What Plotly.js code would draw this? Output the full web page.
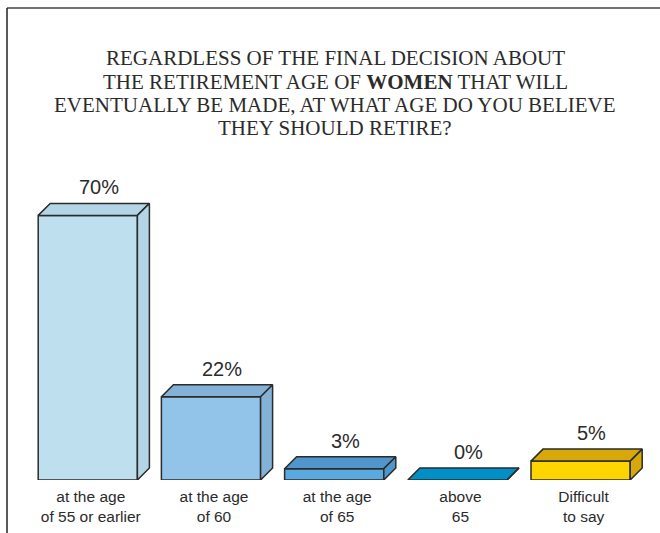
<!DOCTYPE html>
<html>
<head>
<meta charset="utf-8">
<script src="https://cdn.plot.ly/plotly-3.0.1.min.js"></script>
<style>
html,body{margin:0;padding:0;background:#fff;}
#chart{width:660px;height:533px;}
</style>
</head>
<body>
<div id="chart"></div>
<script>
// ---- data ----
var categories = ["at the age<br>of 55 or earlier", "at the age<br>of 60", "at the age<br>of 65", "above<br>65", "Difficult<br>to say"];
var values = [70, 22, 3, 0, 5];
var valueLabels = ["70%", "22%", "3%", "0%", "5%"];
var frontColors = ["#BEDFEE", "#92C4EA", "#5AAADF", "#0090C6", "#FFD500"];
var shadeColors = ["#B3D5E6", "#83B2D6", "#5096CB", "#0090C6", "#D6A80A"];
var titleLines = [
  "REGARDLESS OF THE FINAL DECISION ABOUT",
  "THE RETIREMENT AGE OF <b>WOMEN</b> THAT WILL",
  "EVENTUALLY BE MADE, AT WHAT AGE DO YOU BELIEVE",
  "THEY SHOULD RETIRE?"
];

// ---- geometry (pixel-based styling constants) ----
var W = 660, H = 533;
var mT = 102, mB = 53;
var pxPerUnitX = 123.2;
var firstCenterPx = 87.8;
var xmin = -firstCenterPx / pxPerUnitX;
var xmax = (W - firstCenterPx) / pxPerUnitX;
var plotH = H - mT - mB;
var ymax = 100;
var pxPerUnitY = plotH / ymax;
var half = 49.6 / pxPerUnitX;
var depthPx = 12;
var dx = depthPx / pxPerUnitX;
var dy = depthPx / pxPerUnitY;
var edge = {color: "#2b2b2b", width: 1.5};

var traces = [];
function poly(xs, ys, fill) {
  traces.push({
    type: "scatter", mode: "lines", x: xs, y: ys, fill: "toself",
    fillcolor: fill, line: edge, hoverinfo: "skip", showlegend: false
  });
}
values.forEach(function (v, i) {
  var L = i - half, R = i + half;
  poly([L, R, R, L, L], [0, 0, v, v, 0], frontColors[i]);
  poly([L, R, R + dx, L + dx, L], [v, v, v + dy, v + dy, v], shadeColors[i]);
  poly([R, R + dx, R + dx, R, R], [0, dy, v + dy, v, 0], shadeColors[i]);
});

var annotations = [];
values.forEach(function (v, i) {
  annotations.push({
    x: i + 11 / pxPerUnitX, y: v + dy, xref: "x", yref: "y",
    text: valueLabels[i], showarrow: false, yanchor: "bottom", yshift: 3,
    font: {family: "Liberation Sans, Arial, sans-serif", size: 20, color: "#2b2b2b"}
  });
});
var titleCenters = [58.5, 81.5, 104.5, 128];
titleLines.forEach(function (t, k) {
  annotations.push({
    x: 335 / W, xref: "paper", y: (H - mB - titleCenters[k]) / plotH, yref: "paper",
    text: t, showarrow: false, xanchor: "center", yanchor: "middle",
    font: {family: "Liberation Serif, Times New Roman, serif", size: 21, color: "#2b2b2b"}
  });
});

function py(p) { return (H - mB - p) / plotH; }
var shapes = [
  {type: "line", xref: "paper", yref: "paper", x0: 7 / W, x1: 1, y0: py(8), y1: py(8), line: {color: "#444", width: 1.5}},
  {type: "line", xref: "paper", yref: "paper", x0: 7 / W, x1: 7 / W, y0: py(8), y1: py(H + 2), line: {color: "#222", width: 1.5}}
];

var layout = {
  width: W, height: H,
  margin: {l: 0, r: 0, t: mT, b: mB, pad: 0},
  paper_bgcolor: "#ffffff", plot_bgcolor: "#ffffff",
  showlegend: false,
  xaxis: {
    range: [xmin, xmax], showgrid: false, zeroline: false, showline: false,
    ticks: "", tickvals: [0, 1, 2, 3, 4].map(function (i) { return i + 3 / pxPerUnitX; }),
    ticktext: categories, ticklabelstandoff: 5,
    tickfont: {family: "Liberation Sans, Arial, sans-serif", size: 15.5, color: "#2b2b2b"},
    fixedrange: true
  },
  yaxis: {range: [0, ymax], showgrid: false, zeroline: false, showline: false, showticklabels: false, ticks: "", fixedrange: true},
  annotations: annotations,
  shapes: shapes,
  hovermode: false
};

Plotly.newPlot("chart", traces, layout, {displayModeBar: false, staticPlot: true});
</script>
</body>
</html>
